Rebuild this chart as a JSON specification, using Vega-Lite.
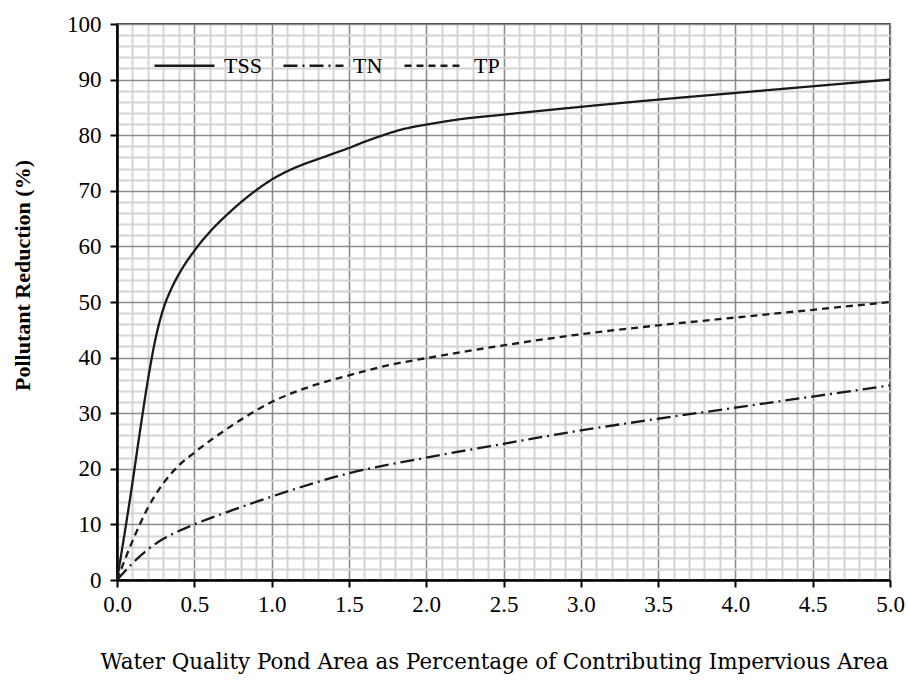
{
  "$schema": "https://vega.github.io/schema/vega-lite/v6.json",
  "width": 773,
  "height": 556,
  "autosize": {"type": "none"},
  "padding": {"left": 117, "top": 24, "right": 18, "bottom": 102},
  "background": "white",
  "config": {
    "view": {"stroke": "black", "strokeWidth": 1.5},
    "font": "Liberation Serif"
  },
  "data": {
    "values": [
      {"x": 0, "y": 0, "s": "TSS"},
      {"x": 0.05, "y": 8.5, "s": "TSS"},
      {"x": 0.1, "y": 17.5, "s": "TSS"},
      {"x": 0.15, "y": 27, "s": "TSS"},
      {"x": 0.2, "y": 36, "s": "TSS"},
      {"x": 0.25, "y": 43.5, "s": "TSS"},
      {"x": 0.3, "y": 48.8, "s": "TSS"},
      {"x": 0.35, "y": 52.3, "s": "TSS"},
      {"x": 0.4, "y": 55, "s": "TSS"},
      {"x": 0.5, "y": 59.2, "s": "TSS"},
      {"x": 0.6, "y": 62.6, "s": "TSS"},
      {"x": 0.7, "y": 65.4, "s": "TSS"},
      {"x": 0.8, "y": 67.9, "s": "TSS"},
      {"x": 0.9, "y": 70.1, "s": "TSS"},
      {"x": 1.0, "y": 72, "s": "TSS"},
      {"x": 1.1, "y": 73.5, "s": "TSS"},
      {"x": 1.2, "y": 74.7, "s": "TSS"},
      {"x": 1.3, "y": 75.7, "s": "TSS"},
      {"x": 1.4, "y": 76.7, "s": "TSS"},
      {"x": 1.5, "y": 77.7, "s": "TSS"},
      {"x": 1.6, "y": 78.8, "s": "TSS"},
      {"x": 1.7, "y": 79.8, "s": "TSS"},
      {"x": 1.8, "y": 80.7, "s": "TSS"},
      {"x": 1.9, "y": 81.4, "s": "TSS"},
      {"x": 2.0, "y": 81.9, "s": "TSS"},
      {"x": 2.2, "y": 82.8, "s": "TSS"},
      {"x": 2.5, "y": 83.7, "s": "TSS"},
      {"x": 3.0, "y": 85.1, "s": "TSS"},
      {"x": 3.5, "y": 86.4, "s": "TSS"},
      {"x": 4.0, "y": 87.6, "s": "TSS"},
      {"x": 4.5, "y": 88.8, "s": "TSS"},
      {"x": 5.0, "y": 90, "s": "TSS"},
      {"x": 0, "y": 0, "s": "TN"},
      {"x": 0.1, "y": 3, "s": "TN"},
      {"x": 0.2, "y": 5.5, "s": "TN"},
      {"x": 0.3, "y": 7.4, "s": "TN"},
      {"x": 0.4, "y": 8.8, "s": "TN"},
      {"x": 0.5, "y": 10, "s": "TN"},
      {"x": 0.75, "y": 12.6, "s": "TN"},
      {"x": 1.0, "y": 15, "s": "TN"},
      {"x": 1.5, "y": 19.2, "s": "TN"},
      {"x": 2.0, "y": 22, "s": "TN"},
      {"x": 2.5, "y": 24.5, "s": "TN"},
      {"x": 3.0, "y": 26.9, "s": "TN"},
      {"x": 3.5, "y": 29, "s": "TN"},
      {"x": 4.0, "y": 31, "s": "TN"},
      {"x": 4.5, "y": 33, "s": "TN"},
      {"x": 5.0, "y": 35, "s": "TN"},
      {"x": 0, "y": 0, "s": "TP"},
      {"x": 0.1, "y": 7, "s": "TP"},
      {"x": 0.2, "y": 13, "s": "TP"},
      {"x": 0.3, "y": 17.4, "s": "TP"},
      {"x": 0.4, "y": 20.6, "s": "TP"},
      {"x": 0.5, "y": 22.9, "s": "TP"},
      {"x": 0.75, "y": 27.9, "s": "TP"},
      {"x": 1.0, "y": 32, "s": "TP"},
      {"x": 1.25, "y": 34.8, "s": "TP"},
      {"x": 1.5, "y": 36.8, "s": "TP"},
      {"x": 1.75, "y": 38.6, "s": "TP"},
      {"x": 2.0, "y": 39.9, "s": "TP"},
      {"x": 2.5, "y": 42.2, "s": "TP"},
      {"x": 3.0, "y": 44.2, "s": "TP"},
      {"x": 3.5, "y": 45.8, "s": "TP"},
      {"x": 4.0, "y": 47.2, "s": "TP"},
      {"x": 4.5, "y": 48.6, "s": "TP"},
      {"x": 5.0, "y": 50, "s": "TP"}
    ]
  },
  "mark": {"type": "line", "interpolate": "monotone", "strokeWidth": 2.3, "color": "#1a1a1a"},
  "encoding": {
    "x": {
      "field": "x",
      "type": "quantitative",
      "scale": {"domain": [0, 5], "nice": false, "zero": false},
      "axis": {
        "values": [0,0.1,0.2,0.3,0.4,0.5,0.6,0.7,0.8,0.9,1,1.1,1.2,1.3,1.4,1.5,1.6,1.7,1.8,1.9,2,2.1,2.2,2.3,2.4,2.5,2.6,2.7,2.8,2.9,3,3.1,3.2,3.3,3.4,3.5,3.6,3.7,3.8,3.9,4,4.1,4.2,4.3,4.4,4.5,4.6,4.7,4.8,4.9,5],
        "title": "Water Quality Pond Area as  Percentage of Contributing Impervious Area",
        "titleFont": "DejaVu Serif",
        "titleFontSize": 21.4,
        "titleFontWeight": "normal",
        "titleColor": "black",
        "titleX": 377,
        "titleY": 82,
        "titleBaseline": "middle",
        "labelFont": "Liberation Serif",
        "labelFontSize": 23,
        "labelColor": "black",
        "labelPadding": 6,
        "labelExpr": "abs(datum.value*2 - round(datum.value*2)) < 0.001 ? format(datum.value, '.1f') : ''",
        "labelOverlap": false,
        "labelFlush": false,
        "domainColor": "black",
        "domainWidth": 2.5,
        "tickSize": 7,
        "tickWidth": 2,
        "tickColor": {"condition": {"test": "abs(datum.value*2 - round(datum.value*2)) < 0.001", "value": "black"}, "value": "transparent"},
        "grid": true,
        "gridColor": {"condition": {"test": "abs(datum.value*2 - round(datum.value*2)) < 0.001", "value": "#8c8c8c"}, "value": "#d4d4d4"},
        "gridWidth": {"condition": {"test": "abs(datum.value*2 - round(datum.value*2)) < 0.001", "value": 1.6}, "value": 2},
        "gridOpacity": 1
      }
    },
    "y": {
      "field": "y",
      "type": "quantitative",
      "scale": {"domain": [0, 100], "nice": false},
      "axis": {
        "values": [0,2,4,6,8,10,12,14,16,18,20,22,24,26,28,30,32,34,36,38,40,42,44,46,48,50,52,54,56,58,60,62,64,66,68,70,72,74,76,78,80,82,84,86,88,90,92,94,96,98,100],
        "title": "Pollutant Reduction (%)",
        "titleFont": "Liberation Serif",
        "titleFontSize": 22,
        "titleFontWeight": "bold",
        "titleColor": "black",
        "titleX": -95,
        "titleY": 251,
        "titleBaseline": "middle",
        "titleAngle": -90,
        "labelFont": "Liberation Serif",
        "labelFontSize": 23,
        "labelColor": "black",
        "labelPadding": 9,
        "labelExpr": "datum.value % 10 === 0 ? format(datum.value, 'd') : ''",
        "labelOverlap": false,
        "labelFlush": false,
        "domainColor": "black",
        "domainWidth": 2.5,
        "tickSize": 7,
        "tickWidth": 2,
        "tickColor": {"condition": {"test": "datum.value % 10 === 0", "value": "black"}, "value": "transparent"},
        "grid": true,
        "gridColor": {"condition": {"test": "datum.value % 10 === 0", "value": "#8c8c8c"}, "value": "#d4d4d4"},
        "gridWidth": {"condition": {"test": "datum.value % 10 === 0", "value": 1.6}, "value": 2},
        "gridOpacity": 1
      }
    },
    "strokeDash": {
      "field": "s",
      "type": "nominal",
      "scale": {"domain": ["TSS", "TN", "TP"], "range": [[1, 0], [14, 5, 2, 5], [7, 5]]},
      "legend": {
        "title": null,
        "orient": "none",
        "legendX": 36,
        "legendY": 10,
        "direction": "horizontal",
        "symbolType": "stroke",
        "symbolSize": 3600,
        "symbolStrokeWidth": 2.3,
        "symbolStrokeColor": "#1a1a1a",
        "labelFont": "Liberation Serif",
        "labelFontSize": 22,
        "labelColor": "black",
        "labelOffset": 8,
        "columnPadding": 16,
        "padding": 0
      }
    }
  }
}
